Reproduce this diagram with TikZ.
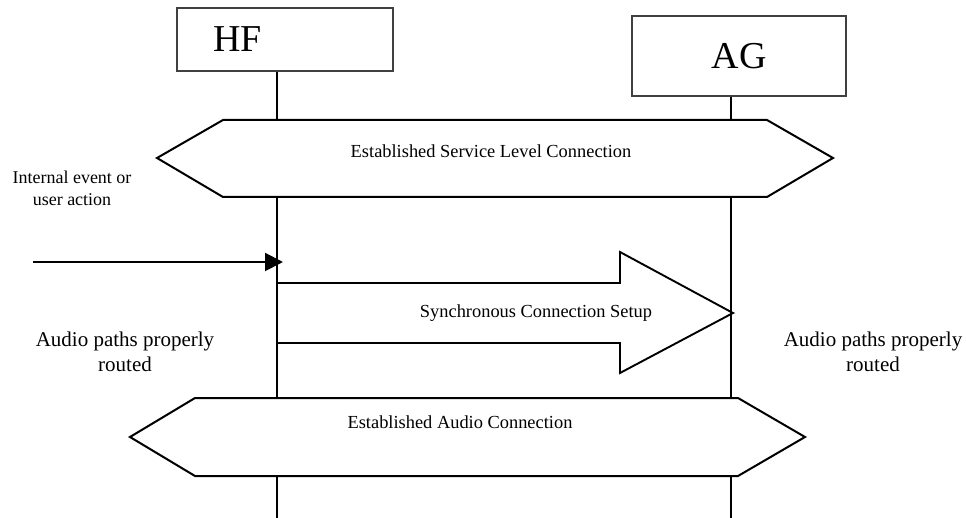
\documentclass[tikz,border=0pt]{standalone}
\usepackage{fontspec}
\setmainfont{Liberation Serif}
\usetikzlibrary{arrows.meta,positioning}
\tikzset{
  entity/.style={draw=black!75,line width=1.3pt,fill=white,inner sep=0pt,
                 font=\fontsize{38}{40}\selectfont},
  lifeline/.style={line width=2.4pt},
  hexbar/.style={draw,line width=2pt,fill=white,line join=miter},
  bigarr/.style={draw,line width=1.9pt,line join=miter},
  lbl/.style={font=\fontsize{18.4}{22}\selectfont,inner sep=0pt},
  note/.style={font=\fontsize{18}{22}\selectfont,align=center,inner sep=0pt},
  path/.style={font=\fontsize{21}{25}\selectfont,align=center,inner sep=0pt},
  evt/.style={-{Triangle[length=18pt,width=18pt]},line width=2pt},
}
\begin{document}
\begin{tikzpicture}[x=1pt,y=-1pt]
  \useasboundingbox (0,0) rectangle (966,518);
  % entities
  \node[entity,minimum height=63pt,text width=144pt,inner xsep=36pt,align=left] (hf) at (285,39.5) {HF};
  \node[entity,minimum width=214pt,minimum height=80pt] (ag) at (739,56) {AG};
  \coordinate (hfend) at (277,518);
  \coordinate (agend) at (731,518);
  \draw[lifeline] (hfend |- hf.south) -- (hfend);
  \draw[lifeline] (agend |- ag.south) -- (agend);
  % service level connection
  \draw[hexbar] (157,158) -- (223,120) -- (767,120) -- (833,158) -- (767,197) -- (223,197) -- cycle;
  \node[lbl] (slc) at (491,151) {Established Service Level Connection};
  % trigger
  \node[note] (trig) at (72,188) {Internal event or\\user action};
  \coordinate (src) at (33,262);
  \draw[evt] (src) -- ([xshift=6pt]hfend |- src);
  % synchronous connection setup
  \draw[bigarr] (277,283) -- (620,283) -- (620,252) -- (733,313) -- (620,373) -- (620,343) -- (277,343);
  \node[lbl] (sync) at (536,313) {Synchronous Connection Setup};
  \node[path] (hfpath) at (125,352) {Audio paths properly\\routed};
  \node[path] (agpath) at (873,352) {Audio paths properly\\routed};
  % audio connection
  \draw[hexbar] (130,437) -- (195,398) -- (738,398) -- (805,437) -- (738,476) -- (195,476) -- cycle;
  \node[lbl] (aud) at (460,422) {Established Audio Connection};
\end{tikzpicture}
\end{document}
